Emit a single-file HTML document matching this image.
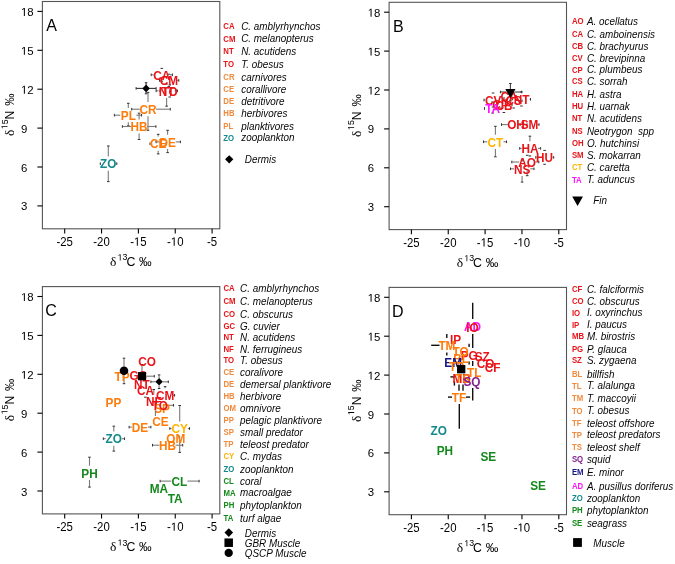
<!DOCTYPE html><html><head><meta charset="utf-8"><style>html,body{margin:0;padding:0;background:#fff;}svg{display:block;will-change:transform;font-family:"Liberation Sans",sans-serif;}</style></head><body>
<svg width="675" height="564" viewBox="0 0 675 564">
<rect width="675" height="564" fill="#fff"/>
<g transform="translate(0,0)">
<rect x="42.4" y="1.5" width="177.4" height="227.3" fill="none" stroke="#555555" stroke-width="1.1"/>
<line x1="64.70" y1="228.8" x2="64.70" y2="233.4" stroke="#000" stroke-width="1.1"/>
<g transform="translate(0,245.70) scale(1,1.04)"><text x="56.46" y="0" font-size="11.4" fill="#000">-25</text></g>
<line x1="101.55" y1="228.8" x2="101.55" y2="233.4" stroke="#000" stroke-width="1.1"/>
<g transform="translate(0,245.70) scale(1,1.04)"><text x="93.31" y="0" font-size="11.4" fill="#000">-20</text></g>
<line x1="138.40" y1="228.8" x2="138.40" y2="233.4" stroke="#000" stroke-width="1.1"/>
<g transform="translate(0,245.70) scale(1,1.04)"><text x="130.16" y="0" font-size="11.4" fill="#000">-</text><path transform="translate(133.96,0) scale(0.005566,-0.005566)" d="M515 0L515 1237L197 1010L197 1180L530 1409L696 1409L696 0Z" fill="#000"/><text x="140.30" y="0" font-size="11.4" fill="#000">5</text></g>
<line x1="175.25" y1="228.8" x2="175.25" y2="233.4" stroke="#000" stroke-width="1.1"/>
<g transform="translate(0,245.70) scale(1,1.04)"><text x="167.01" y="0" font-size="11.4" fill="#000">-</text><path transform="translate(170.81,0) scale(0.005566,-0.005566)" d="M515 0L515 1237L197 1010L197 1180L530 1409L696 1409L696 0Z" fill="#000"/><text x="177.15" y="0" font-size="11.4" fill="#000">0</text></g>
<line x1="212.10" y1="228.8" x2="212.10" y2="233.4" stroke="#000" stroke-width="1.1"/>
<g transform="translate(0,245.70) scale(1,1.04)"><text x="207.03" y="0" font-size="11.4" fill="#000">-5</text></g>
<line x1="37.4" y1="205.91" x2="42.4" y2="205.91" stroke="#000" stroke-width="1.1"/>
<g transform="translate(0,210.41) scale(1,1.0)"><text x="21.00" y="0" font-size="11.4" fill="#000">3</text></g>
<line x1="37.4" y1="167.00" x2="42.4" y2="167.00" stroke="#000" stroke-width="1.1"/>
<g transform="translate(0,171.50) scale(1,1.0)"><text x="21.00" y="0" font-size="11.4" fill="#000">6</text></g>
<line x1="37.4" y1="128.10" x2="42.4" y2="128.10" stroke="#000" stroke-width="1.1"/>
<g transform="translate(0,132.60) scale(1,1.0)"><text x="21.00" y="0" font-size="11.4" fill="#000">9</text></g>
<line x1="37.4" y1="89.20" x2="42.4" y2="89.20" stroke="#000" stroke-width="1.1"/>
<g transform="translate(0,93.70) scale(1,1.0)"><path transform="translate(21.00,0) scale(0.005566,-0.005566)" d="M515 0L515 1237L197 1010L197 1180L530 1409L696 1409L696 0Z" fill="#000"/><text x="27.34" y="0" font-size="11.4" fill="#000">2</text></g>
<line x1="37.4" y1="50.30" x2="42.4" y2="50.30" stroke="#000" stroke-width="1.1"/>
<g transform="translate(0,54.80) scale(1,1.0)"><path transform="translate(21.00,0) scale(0.005566,-0.005566)" d="M515 0L515 1237L197 1010L197 1180L530 1409L696 1409L696 0Z" fill="#000"/><text x="27.34" y="0" font-size="11.4" fill="#000">5</text></g>
<line x1="37.4" y1="11.40" x2="42.4" y2="11.40" stroke="#000" stroke-width="1.1"/>
<g transform="translate(0,15.90) scale(1,1.0)"><path transform="translate(21.00,0) scale(0.005566,-0.005566)" d="M515 0L515 1237L197 1010L197 1180L530 1409L696 1409L696 0Z" fill="#000"/><text x="27.34" y="0" font-size="11.4" fill="#000">8</text></g>
<text x="46.3" y="31.0" font-size="16">A</text>
<text x="110.1" y="266" font-family="Liberation Serif" font-size="13.5">&#948;</text>
<g transform="translate(0,260.40) scale(1,1.0)"><path transform="translate(117.60,0) scale(0.004297,-0.004297)" d="M515 0L515 1237L197 1010L197 1180L530 1409L696 1409L696 0Z" fill="#000"/><text x="122.49" y="0" font-size="8.8" fill="#000">3</text></g>
<text x="126.4" y="266" font-size="12.3">C</text><text x="139" y="266" font-size="12.6">&#8240;</text>
<g transform="translate(14.1,246) rotate(-90)">
<text x="109.9" y="0" font-family="Liberation Serif" font-size="13.5">&#948;</text>
<g transform="translate(0,-6.60) scale(1,1.0)"><path transform="translate(116.80,0) scale(0.004297,-0.004297)" d="M515 0L515 1237L197 1010L197 1180L530 1409L696 1409L696 0Z" fill="#000"/><text x="121.69" y="0" font-size="8.8" fill="#000">5</text></g>
<text x="126.6" y="0" font-size="12.3">N</text><text x="140.2" y="0" font-size="12.3">&#8240;</text>
</g>
</g>
<g transform="translate(346.7,0.8)">
<rect x="42.4" y="1.5" width="177.4" height="227.3" fill="none" stroke="#555555" stroke-width="1.1"/>
<line x1="64.70" y1="228.8" x2="64.70" y2="233.4" stroke="#000" stroke-width="1.1"/>
<g transform="translate(0,245.70) scale(1,1.04)"><text x="56.46" y="0" font-size="11.4" fill="#000">-25</text></g>
<line x1="101.55" y1="228.8" x2="101.55" y2="233.4" stroke="#000" stroke-width="1.1"/>
<g transform="translate(0,245.70) scale(1,1.04)"><text x="93.31" y="0" font-size="11.4" fill="#000">-20</text></g>
<line x1="138.40" y1="228.8" x2="138.40" y2="233.4" stroke="#000" stroke-width="1.1"/>
<g transform="translate(0,245.70) scale(1,1.04)"><text x="130.16" y="0" font-size="11.4" fill="#000">-</text><path transform="translate(133.96,0) scale(0.005566,-0.005566)" d="M515 0L515 1237L197 1010L197 1180L530 1409L696 1409L696 0Z" fill="#000"/><text x="140.30" y="0" font-size="11.4" fill="#000">5</text></g>
<line x1="175.25" y1="228.8" x2="175.25" y2="233.4" stroke="#000" stroke-width="1.1"/>
<g transform="translate(0,245.70) scale(1,1.04)"><text x="167.01" y="0" font-size="11.4" fill="#000">-</text><path transform="translate(170.81,0) scale(0.005566,-0.005566)" d="M515 0L515 1237L197 1010L197 1180L530 1409L696 1409L696 0Z" fill="#000"/><text x="177.15" y="0" font-size="11.4" fill="#000">0</text></g>
<line x1="212.10" y1="228.8" x2="212.10" y2="233.4" stroke="#000" stroke-width="1.1"/>
<g transform="translate(0,245.70) scale(1,1.04)"><text x="207.03" y="0" font-size="11.4" fill="#000">-5</text></g>
<line x1="37.4" y1="205.91" x2="42.4" y2="205.91" stroke="#000" stroke-width="1.1"/>
<g transform="translate(0,210.41) scale(1,1.0)"><text x="21.00" y="0" font-size="11.4" fill="#000">3</text></g>
<line x1="37.4" y1="167.00" x2="42.4" y2="167.00" stroke="#000" stroke-width="1.1"/>
<g transform="translate(0,171.50) scale(1,1.0)"><text x="21.00" y="0" font-size="11.4" fill="#000">6</text></g>
<line x1="37.4" y1="128.10" x2="42.4" y2="128.10" stroke="#000" stroke-width="1.1"/>
<g transform="translate(0,132.60) scale(1,1.0)"><text x="21.00" y="0" font-size="11.4" fill="#000">9</text></g>
<line x1="37.4" y1="89.20" x2="42.4" y2="89.20" stroke="#000" stroke-width="1.1"/>
<g transform="translate(0,93.70) scale(1,1.0)"><path transform="translate(21.00,0) scale(0.005566,-0.005566)" d="M515 0L515 1237L197 1010L197 1180L530 1409L696 1409L696 0Z" fill="#000"/><text x="27.34" y="0" font-size="11.4" fill="#000">2</text></g>
<line x1="37.4" y1="50.30" x2="42.4" y2="50.30" stroke="#000" stroke-width="1.1"/>
<g transform="translate(0,54.80) scale(1,1.0)"><path transform="translate(21.00,0) scale(0.005566,-0.005566)" d="M515 0L515 1237L197 1010L197 1180L530 1409L696 1409L696 0Z" fill="#000"/><text x="27.34" y="0" font-size="11.4" fill="#000">5</text></g>
<line x1="37.4" y1="11.40" x2="42.4" y2="11.40" stroke="#000" stroke-width="1.1"/>
<g transform="translate(0,15.90) scale(1,1.0)"><path transform="translate(21.00,0) scale(0.005566,-0.005566)" d="M515 0L515 1237L197 1010L197 1180L530 1409L696 1409L696 0Z" fill="#000"/><text x="27.34" y="0" font-size="11.4" fill="#000">8</text></g>
<text x="46.3" y="31.0" font-size="16">B</text>
<text x="110.1" y="266" font-family="Liberation Serif" font-size="13.5">&#948;</text>
<g transform="translate(0,260.40) scale(1,1.0)"><path transform="translate(117.60,0) scale(0.004297,-0.004297)" d="M515 0L515 1237L197 1010L197 1180L530 1409L696 1409L696 0Z" fill="#000"/><text x="122.49" y="0" font-size="8.8" fill="#000">3</text></g>
<text x="126.4" y="266" font-size="12.3">C</text><text x="139" y="266" font-size="12.6">&#8240;</text>
<g transform="translate(14.1,246) rotate(-90)">
<text x="109.9" y="0" font-family="Liberation Serif" font-size="13.5">&#948;</text>
<g transform="translate(0,-6.60) scale(1,1.0)"><path transform="translate(116.80,0) scale(0.004297,-0.004297)" d="M515 0L515 1237L197 1010L197 1180L530 1409L696 1409L696 0Z" fill="#000"/><text x="121.69" y="0" font-size="8.8" fill="#000">5</text></g>
<text x="126.6" y="0" font-size="12.3">N</text><text x="140.2" y="0" font-size="12.3">&#8240;</text>
</g>
</g>
<g transform="translate(0,285.1)">
<rect x="42.4" y="1.5" width="177.4" height="227.3" fill="none" stroke="#555555" stroke-width="1.1"/>
<line x1="64.70" y1="228.8" x2="64.70" y2="233.4" stroke="#000" stroke-width="1.1"/>
<g transform="translate(0,245.70) scale(1,1.04)"><text x="56.46" y="0" font-size="11.4" fill="#000">-25</text></g>
<line x1="101.55" y1="228.8" x2="101.55" y2="233.4" stroke="#000" stroke-width="1.1"/>
<g transform="translate(0,245.70) scale(1,1.04)"><text x="93.31" y="0" font-size="11.4" fill="#000">-20</text></g>
<line x1="138.40" y1="228.8" x2="138.40" y2="233.4" stroke="#000" stroke-width="1.1"/>
<g transform="translate(0,245.70) scale(1,1.04)"><text x="130.16" y="0" font-size="11.4" fill="#000">-</text><path transform="translate(133.96,0) scale(0.005566,-0.005566)" d="M515 0L515 1237L197 1010L197 1180L530 1409L696 1409L696 0Z" fill="#000"/><text x="140.30" y="0" font-size="11.4" fill="#000">5</text></g>
<line x1="175.25" y1="228.8" x2="175.25" y2="233.4" stroke="#000" stroke-width="1.1"/>
<g transform="translate(0,245.70) scale(1,1.04)"><text x="167.01" y="0" font-size="11.4" fill="#000">-</text><path transform="translate(170.81,0) scale(0.005566,-0.005566)" d="M515 0L515 1237L197 1010L197 1180L530 1409L696 1409L696 0Z" fill="#000"/><text x="177.15" y="0" font-size="11.4" fill="#000">0</text></g>
<line x1="212.10" y1="228.8" x2="212.10" y2="233.4" stroke="#000" stroke-width="1.1"/>
<g transform="translate(0,245.70) scale(1,1.04)"><text x="207.03" y="0" font-size="11.4" fill="#000">-5</text></g>
<line x1="37.4" y1="205.91" x2="42.4" y2="205.91" stroke="#000" stroke-width="1.1"/>
<g transform="translate(0,210.41) scale(1,1.0)"><text x="21.00" y="0" font-size="11.4" fill="#000">3</text></g>
<line x1="37.4" y1="167.00" x2="42.4" y2="167.00" stroke="#000" stroke-width="1.1"/>
<g transform="translate(0,171.50) scale(1,1.0)"><text x="21.00" y="0" font-size="11.4" fill="#000">6</text></g>
<line x1="37.4" y1="128.10" x2="42.4" y2="128.10" stroke="#000" stroke-width="1.1"/>
<g transform="translate(0,132.60) scale(1,1.0)"><text x="21.00" y="0" font-size="11.4" fill="#000">9</text></g>
<line x1="37.4" y1="89.20" x2="42.4" y2="89.20" stroke="#000" stroke-width="1.1"/>
<g transform="translate(0,93.70) scale(1,1.0)"><path transform="translate(21.00,0) scale(0.005566,-0.005566)" d="M515 0L515 1237L197 1010L197 1180L530 1409L696 1409L696 0Z" fill="#000"/><text x="27.34" y="0" font-size="11.4" fill="#000">2</text></g>
<line x1="37.4" y1="50.30" x2="42.4" y2="50.30" stroke="#000" stroke-width="1.1"/>
<g transform="translate(0,54.80) scale(1,1.0)"><path transform="translate(21.00,0) scale(0.005566,-0.005566)" d="M515 0L515 1237L197 1010L197 1180L530 1409L696 1409L696 0Z" fill="#000"/><text x="27.34" y="0" font-size="11.4" fill="#000">5</text></g>
<line x1="37.4" y1="11.40" x2="42.4" y2="11.40" stroke="#000" stroke-width="1.1"/>
<g transform="translate(0,15.90) scale(1,1.0)"><path transform="translate(21.00,0) scale(0.005566,-0.005566)" d="M515 0L515 1237L197 1010L197 1180L530 1409L696 1409L696 0Z" fill="#000"/><text x="27.34" y="0" font-size="11.4" fill="#000">8</text></g>
<text x="45.3" y="31.0" font-size="16">C</text>
<text x="110.1" y="266" font-family="Liberation Serif" font-size="13.5">&#948;</text>
<g transform="translate(0,260.40) scale(1,1.0)"><path transform="translate(117.60,0) scale(0.004297,-0.004297)" d="M515 0L515 1237L197 1010L197 1180L530 1409L696 1409L696 0Z" fill="#000"/><text x="122.49" y="0" font-size="8.8" fill="#000">3</text></g>
<text x="126.4" y="266" font-size="12.3">C</text><text x="139" y="266" font-size="12.6">&#8240;</text>
<g transform="translate(14.1,246) rotate(-90)">
<text x="109.9" y="0" font-family="Liberation Serif" font-size="13.5">&#948;</text>
<g transform="translate(0,-6.60) scale(1,1.0)"><path transform="translate(116.80,0) scale(0.004297,-0.004297)" d="M515 0L515 1237L197 1010L197 1180L530 1409L696 1409L696 0Z" fill="#000"/><text x="121.69" y="0" font-size="8.8" fill="#000">5</text></g>
<text x="126.6" y="0" font-size="12.3">N</text><text x="140.2" y="0" font-size="12.3">&#8240;</text>
</g>
</g>
<g transform="translate(346.7,285.9)">
<rect x="42.4" y="1.5" width="177.4" height="227.3" fill="none" stroke="#555555" stroke-width="1.1"/>
<line x1="64.70" y1="228.8" x2="64.70" y2="233.4" stroke="#000" stroke-width="1.1"/>
<g transform="translate(0,245.70) scale(1,1.04)"><text x="56.46" y="0" font-size="11.4" fill="#000">-25</text></g>
<line x1="101.55" y1="228.8" x2="101.55" y2="233.4" stroke="#000" stroke-width="1.1"/>
<g transform="translate(0,245.70) scale(1,1.04)"><text x="93.31" y="0" font-size="11.4" fill="#000">-20</text></g>
<line x1="138.40" y1="228.8" x2="138.40" y2="233.4" stroke="#000" stroke-width="1.1"/>
<g transform="translate(0,245.70) scale(1,1.04)"><text x="130.16" y="0" font-size="11.4" fill="#000">-</text><path transform="translate(133.96,0) scale(0.005566,-0.005566)" d="M515 0L515 1237L197 1010L197 1180L530 1409L696 1409L696 0Z" fill="#000"/><text x="140.30" y="0" font-size="11.4" fill="#000">5</text></g>
<line x1="175.25" y1="228.8" x2="175.25" y2="233.4" stroke="#000" stroke-width="1.1"/>
<g transform="translate(0,245.70) scale(1,1.04)"><text x="167.01" y="0" font-size="11.4" fill="#000">-</text><path transform="translate(170.81,0) scale(0.005566,-0.005566)" d="M515 0L515 1237L197 1010L197 1180L530 1409L696 1409L696 0Z" fill="#000"/><text x="177.15" y="0" font-size="11.4" fill="#000">0</text></g>
<line x1="212.10" y1="228.8" x2="212.10" y2="233.4" stroke="#000" stroke-width="1.1"/>
<g transform="translate(0,245.70) scale(1,1.04)"><text x="207.03" y="0" font-size="11.4" fill="#000">-5</text></g>
<line x1="37.4" y1="205.91" x2="42.4" y2="205.91" stroke="#000" stroke-width="1.1"/>
<g transform="translate(0,210.41) scale(1,1.0)"><text x="21.00" y="0" font-size="11.4" fill="#000">3</text></g>
<line x1="37.4" y1="167.00" x2="42.4" y2="167.00" stroke="#000" stroke-width="1.1"/>
<g transform="translate(0,171.50) scale(1,1.0)"><text x="21.00" y="0" font-size="11.4" fill="#000">6</text></g>
<line x1="37.4" y1="128.10" x2="42.4" y2="128.10" stroke="#000" stroke-width="1.1"/>
<g transform="translate(0,132.60) scale(1,1.0)"><text x="21.00" y="0" font-size="11.4" fill="#000">9</text></g>
<line x1="37.4" y1="89.20" x2="42.4" y2="89.20" stroke="#000" stroke-width="1.1"/>
<g transform="translate(0,93.70) scale(1,1.0)"><path transform="translate(21.00,0) scale(0.005566,-0.005566)" d="M515 0L515 1237L197 1010L197 1180L530 1409L696 1409L696 0Z" fill="#000"/><text x="27.34" y="0" font-size="11.4" fill="#000">2</text></g>
<line x1="37.4" y1="50.30" x2="42.4" y2="50.30" stroke="#000" stroke-width="1.1"/>
<g transform="translate(0,54.80) scale(1,1.0)"><path transform="translate(21.00,0) scale(0.005566,-0.005566)" d="M515 0L515 1237L197 1010L197 1180L530 1409L696 1409L696 0Z" fill="#000"/><text x="27.34" y="0" font-size="11.4" fill="#000">5</text></g>
<line x1="37.4" y1="11.40" x2="42.4" y2="11.40" stroke="#000" stroke-width="1.1"/>
<g transform="translate(0,15.90) scale(1,1.0)"><path transform="translate(21.00,0) scale(0.005566,-0.005566)" d="M515 0L515 1237L197 1010L197 1180L530 1409L696 1409L696 0Z" fill="#000"/><text x="27.34" y="0" font-size="11.4" fill="#000">8</text></g>
<text x="45.3" y="31.0" font-size="16">D</text>
<text x="110.1" y="266" font-family="Liberation Serif" font-size="13.5">&#948;</text>
<g transform="translate(0,260.40) scale(1,1.0)"><path transform="translate(117.60,0) scale(0.004297,-0.004297)" d="M515 0L515 1237L197 1010L197 1180L530 1409L696 1409L696 0Z" fill="#000"/><text x="122.49" y="0" font-size="8.8" fill="#000">3</text></g>
<text x="126.4" y="266" font-size="12.3">C</text><text x="139" y="266" font-size="12.6">&#8240;</text>
<g transform="translate(14.1,246) rotate(-90)">
<text x="109.9" y="0" font-family="Liberation Serif" font-size="13.5">&#948;</text>
<g transform="translate(0,-6.60) scale(1,1.0)"><path transform="translate(116.80,0) scale(0.004297,-0.004297)" d="M515 0L515 1237L197 1010L197 1180L530 1409L696 1409L696 0Z" fill="#000"/><text x="121.69" y="0" font-size="8.8" fill="#000">5</text></g>
<text x="126.6" y="0" font-size="12.3">N</text><text x="140.2" y="0" font-size="12.3">&#8240;</text>
</g>
</g>
<line x1="151.2" y1="74.8" x2="153.7" y2="74.8" stroke="#7a7a7a" stroke-width="1.1"/>
<line x1="169.9" y1="74.8" x2="172.4" y2="74.8" stroke="#7a7a7a" stroke-width="1.1"/>
<line x1="151.2" y1="73.5" x2="151.2" y2="76.1" stroke="#333" stroke-width="1"/>
<line x1="172.4" y1="73.5" x2="172.4" y2="76.1" stroke="#333" stroke-width="1"/>
<line x1="160.5" y1="68.4" x2="163.1" y2="68.4" stroke="#333" stroke-width="1"/>
<line x1="160.5" y1="81.2" x2="163.1" y2="81.2" stroke="#333" stroke-width="1"/>
<line x1="159.5" y1="80.4" x2="160.7" y2="80.4" stroke="#7a7a7a" stroke-width="1.1"/>
<line x1="176.9" y1="80.4" x2="178.8" y2="80.4" stroke="#7a7a7a" stroke-width="1.1"/>
<line x1="159.5" y1="79.1" x2="159.5" y2="81.7" stroke="#333" stroke-width="1"/>
<line x1="178.8" y1="79.1" x2="178.8" y2="81.7" stroke="#333" stroke-width="1"/>
<line x1="167.5" y1="74.2" x2="170.1" y2="74.2" stroke="#333" stroke-width="1"/>
<line x1="167.5" y1="86.6" x2="170.1" y2="86.6" stroke="#333" stroke-width="1"/>
<line x1="156.1" y1="90.8" x2="158.5" y2="90.8" stroke="#7a7a7a" stroke-width="1.1"/>
<line x1="174.7" y1="90.8" x2="176.0" y2="90.8" stroke="#7a7a7a" stroke-width="1.1"/>
<line x1="166.6" y1="97.9" x2="166.6" y2="106.2" stroke="#7a7a7a" stroke-width="1.1"/>
<line x1="156.1" y1="89.5" x2="156.1" y2="92.1" stroke="#333" stroke-width="1"/>
<line x1="176.0" y1="89.5" x2="176.0" y2="92.1" stroke="#333" stroke-width="1"/>
<line x1="165.3" y1="84.0" x2="167.9" y2="84.0" stroke="#333" stroke-width="1"/>
<line x1="165.3" y1="106.2" x2="167.9" y2="106.2" stroke="#333" stroke-width="1"/>
<line x1="160.0" y1="90.8" x2="161.6" y2="90.8" stroke="#7a7a7a" stroke-width="1.1"/>
<line x1="160.0" y1="89.5" x2="160.0" y2="92.1" stroke="#333" stroke-width="1"/>
<line x1="177.4" y1="89.5" x2="177.4" y2="92.1" stroke="#333" stroke-width="1"/>
<line x1="168.4" y1="85.0" x2="171.0" y2="85.0" stroke="#333" stroke-width="1"/>
<line x1="168.4" y1="97.0" x2="171.0" y2="97.0" stroke="#333" stroke-width="1"/>
<line x1="131.7" y1="109.2" x2="139.9" y2="109.2" stroke="#7a7a7a" stroke-width="1.1"/>
<line x1="156.1" y1="109.2" x2="170.3" y2="109.2" stroke="#7a7a7a" stroke-width="1.1"/>
<line x1="148.0" y1="92.4" x2="148.0" y2="102.1" stroke="#7a7a7a" stroke-width="1.1"/>
<line x1="148.0" y1="116.3" x2="148.0" y2="130.3" stroke="#7a7a7a" stroke-width="1.1"/>
<line x1="131.7" y1="107.9" x2="131.7" y2="110.5" stroke="#333" stroke-width="1"/>
<line x1="170.3" y1="107.9" x2="170.3" y2="110.5" stroke="#333" stroke-width="1"/>
<line x1="146.7" y1="92.4" x2="149.3" y2="92.4" stroke="#333" stroke-width="1"/>
<line x1="146.7" y1="130.3" x2="149.3" y2="130.3" stroke="#333" stroke-width="1"/>
<line x1="114.4" y1="115.2" x2="120.2" y2="115.2" stroke="#7a7a7a" stroke-width="1.1"/>
<line x1="136.4" y1="115.2" x2="141.6" y2="115.2" stroke="#7a7a7a" stroke-width="1.1"/>
<line x1="128.3" y1="103.3" x2="128.3" y2="108.1" stroke="#7a7a7a" stroke-width="1.1"/>
<line x1="128.3" y1="122.3" x2="128.3" y2="125.9" stroke="#7a7a7a" stroke-width="1.1"/>
<line x1="114.4" y1="113.9" x2="114.4" y2="116.5" stroke="#333" stroke-width="1"/>
<line x1="141.6" y1="113.9" x2="141.6" y2="116.5" stroke="#333" stroke-width="1"/>
<line x1="127.0" y1="103.3" x2="129.6" y2="103.3" stroke="#333" stroke-width="1"/>
<line x1="127.0" y1="125.9" x2="129.6" y2="125.9" stroke="#333" stroke-width="1"/>
<line x1="122.4" y1="126.5" x2="131.0" y2="126.5" stroke="#7a7a7a" stroke-width="1.1"/>
<line x1="147.2" y1="126.5" x2="155.9" y2="126.5" stroke="#7a7a7a" stroke-width="1.1"/>
<line x1="139.1" y1="113.2" x2="139.1" y2="119.4" stroke="#7a7a7a" stroke-width="1.1"/>
<line x1="139.1" y1="133.6" x2="139.1" y2="139.5" stroke="#7a7a7a" stroke-width="1.1"/>
<line x1="122.4" y1="125.2" x2="122.4" y2="127.8" stroke="#333" stroke-width="1"/>
<line x1="155.9" y1="125.2" x2="155.9" y2="127.8" stroke="#333" stroke-width="1"/>
<line x1="137.8" y1="113.2" x2="140.4" y2="113.2" stroke="#333" stroke-width="1"/>
<line x1="137.8" y1="139.5" x2="140.4" y2="139.5" stroke="#333" stroke-width="1"/>
<line x1="150.0" y1="143.7" x2="150.1" y2="143.7" stroke="#7a7a7a" stroke-width="1.1"/>
<line x1="158.2" y1="134.3" x2="158.2" y2="136.6" stroke="#7a7a7a" stroke-width="1.1"/>
<line x1="158.2" y1="150.8" x2="158.2" y2="153.9" stroke="#7a7a7a" stroke-width="1.1"/>
<line x1="150.0" y1="142.4" x2="150.0" y2="145.0" stroke="#333" stroke-width="1"/>
<line x1="166.0" y1="142.4" x2="166.0" y2="145.0" stroke="#333" stroke-width="1"/>
<line x1="156.9" y1="134.3" x2="159.5" y2="134.3" stroke="#333" stroke-width="1"/>
<line x1="156.9" y1="153.9" x2="159.5" y2="153.9" stroke="#333" stroke-width="1"/>
<line x1="156.0" y1="141.9" x2="159.5" y2="141.9" stroke="#7a7a7a" stroke-width="1.1"/>
<line x1="175.7" y1="141.9" x2="180.4" y2="141.9" stroke="#7a7a7a" stroke-width="1.1"/>
<line x1="167.6" y1="130.3" x2="167.6" y2="134.8" stroke="#7a7a7a" stroke-width="1.1"/>
<line x1="167.6" y1="149.0" x2="167.6" y2="152.6" stroke="#7a7a7a" stroke-width="1.1"/>
<line x1="156.0" y1="140.6" x2="156.0" y2="143.2" stroke="#333" stroke-width="1"/>
<line x1="180.4" y1="140.6" x2="180.4" y2="143.2" stroke="#333" stroke-width="1"/>
<line x1="166.3" y1="130.3" x2="168.9" y2="130.3" stroke="#333" stroke-width="1"/>
<line x1="166.3" y1="152.6" x2="168.9" y2="152.6" stroke="#333" stroke-width="1"/>
<line x1="116.4" y1="163.7" x2="116.8" y2="163.7" stroke="#7a7a7a" stroke-width="1.1"/>
<line x1="108.3" y1="146.0" x2="108.3" y2="156.6" stroke="#7a7a7a" stroke-width="1.1"/>
<line x1="108.3" y1="170.8" x2="108.3" y2="181.6" stroke="#7a7a7a" stroke-width="1.1"/>
<line x1="100.3" y1="162.4" x2="100.3" y2="165.0" stroke="#333" stroke-width="1"/>
<line x1="116.8" y1="162.4" x2="116.8" y2="165.0" stroke="#333" stroke-width="1"/>
<line x1="107.0" y1="146.0" x2="109.6" y2="146.0" stroke="#333" stroke-width="1"/>
<line x1="107.0" y1="181.6" x2="109.6" y2="181.6" stroke="#333" stroke-width="1"/>
<text transform="translate(161.80,79.53) scale(1,1.13)" font-size="11.8" font-weight="bold" fill="#e91419" text-anchor="middle">CA</text>
<text transform="translate(168.80,85.13) scale(1,1.13)" font-size="11.8" font-weight="bold" fill="#e91419" text-anchor="middle">CM</text>
<text transform="translate(166.60,95.53) scale(1,1.13)" font-size="11.8" font-weight="bold" fill="#e91419" text-anchor="middle">NT</text>
<text transform="translate(169.70,95.53) scale(1,1.13)" font-size="11.8" font-weight="bold" fill="#e91419" text-anchor="middle">TO</text>
<text transform="translate(148.00,113.93) scale(1,1.13)" font-size="11.8" font-weight="bold" fill="#ff7b0a" text-anchor="middle">CR</text>
<text transform="translate(128.30,119.93) scale(1,1.13)" font-size="11.8" font-weight="bold" fill="#ff7b0a" text-anchor="middle">PL</text>
<text transform="translate(139.10,131.23) scale(1,1.13)" font-size="11.8" font-weight="bold" fill="#ff7b0a" text-anchor="middle">HB</text>
<text transform="translate(158.20,148.43) scale(1,1.13)" font-size="11.8" font-weight="bold" fill="#ff7b0a" text-anchor="middle">CE</text>
<text transform="translate(167.60,146.63) scale(1,1.13)" font-size="11.8" font-weight="bold" fill="#ff7b0a" text-anchor="middle">DE</text>
<text transform="translate(108.30,168.43) scale(1,1.13)" font-size="11.8" font-weight="bold" fill="#14898c" text-anchor="middle">ZO</text>
<line x1="136.1" y1="88.4" x2="143.1" y2="88.4" stroke="#333" stroke-width="1.1"/>
<line x1="149.1" y1="88.4" x2="156.1" y2="88.4" stroke="#333" stroke-width="1.1"/>
<line x1="146.1" y1="82.7" x2="146.1" y2="85.4" stroke="#333" stroke-width="1.1"/>
<line x1="146.1" y1="91.4" x2="146.1" y2="93.8" stroke="#333" stroke-width="1.1"/>
<line x1="136.1" y1="87.1" x2="136.1" y2="89.7" stroke="#333" stroke-width="1"/>
<line x1="156.1" y1="87.1" x2="156.1" y2="89.7" stroke="#333" stroke-width="1"/>
<line x1="144.8" y1="82.7" x2="147.4" y2="82.7" stroke="#333" stroke-width="1"/>
<line x1="144.8" y1="93.8" x2="147.4" y2="93.8" stroke="#333" stroke-width="1"/>
<path d="M146.1 84.60000000000001L149.9 88.4L146.1 92.2L142.29999999999998 88.4Z" fill="#000"/>
<text transform="translate(223.3,28.95) scale(1,1.1)" font-size="7.8" font-weight="bold" fill="#e91419">CA</text>
<text transform="translate(241.2,29.79) scale(1,1.12)" font-size="9.9" font-style="italic" fill="#050505">C. amblyrhynchos</text>
<text transform="translate(223.3,41.55) scale(1,1.1)" font-size="7.8" font-weight="bold" fill="#e91419">CM</text>
<text transform="translate(241.2,42.39) scale(1,1.12)" font-size="9.9" font-style="italic" fill="#050505">C. melanopterus</text>
<text transform="translate(223.3,54.25) scale(1,1.1)" font-size="7.8" font-weight="bold" fill="#e91419">NT</text>
<text transform="translate(241.2,55.09) scale(1,1.12)" font-size="9.9" font-style="italic" fill="#050505">N. acutidens</text>
<text transform="translate(223.3,67.05) scale(1,1.1)" font-size="7.8" font-weight="bold" fill="#e91419">TO</text>
<text transform="translate(241.2,67.89) scale(1,1.12)" font-size="9.9" font-style="italic" fill="#050505">T. obesus</text>
<text transform="translate(223.3,80.05) scale(1,1.1)" font-size="7.8" font-weight="bold" fill="#f08a3c">CR</text>
<text transform="translate(241.2,80.89) scale(1,1.12)" font-size="9.9" font-style="italic" fill="#050505">carnivores</text>
<text transform="translate(223.3,92.25) scale(1,1.1)" font-size="7.8" font-weight="bold" fill="#f08a3c">CE</text>
<text transform="translate(241.2,93.09) scale(1,1.12)" font-size="9.9" font-style="italic" fill="#050505">corallivore</text>
<text transform="translate(223.3,104.05) scale(1,1.1)" font-size="7.8" font-weight="bold" fill="#f08a3c">DE</text>
<text transform="translate(241.2,104.89) scale(1,1.12)" font-size="9.9" font-style="italic" fill="#050505">detritivore</text>
<text transform="translate(223.3,116.35) scale(1,1.1)" font-size="7.8" font-weight="bold" fill="#f08a3c">HB</text>
<text transform="translate(241.2,117.19) scale(1,1.12)" font-size="9.9" font-style="italic" fill="#050505">herbivores</text>
<text transform="translate(223.3,128.95) scale(1,1.1)" font-size="7.8" font-weight="bold" fill="#f08a3c">PL</text>
<text transform="translate(241.2,129.79) scale(1,1.12)" font-size="9.9" font-style="italic" fill="#050505">planktivores</text>
<text transform="translate(223.3,140.65) scale(1,1.1)" font-size="7.8" font-weight="bold" fill="#14898c">ZO</text>
<text transform="translate(241.2,141.49) scale(1,1.12)" font-size="9.9" font-style="italic" fill="#050505">zooplankton</text>
<path d="M229.2 155.15L233.35 159.3L229.2 163.45000000000002L225.04999999999998 159.3Z" fill="#000"/>
<text transform="translate(244.8,162.6) scale(1,1.12)" font-size="9.9" font-style="italic" fill="#050505">Dermis</text>
<line x1="500.4" y1="92.0" x2="506.4" y2="92.0" stroke="#444" stroke-width="1.1"/>
<line x1="514.4" y1="92.0" x2="521.6" y2="92.0" stroke="#444" stroke-width="1.1"/>
<line x1="510.4" y1="83.5" x2="510.4" y2="89.0" stroke="#444" stroke-width="1.1"/>
<line x1="510.4" y1="95.0" x2="510.4" y2="101.0" stroke="#444" stroke-width="1.1"/>
<line x1="500.4" y1="90.7" x2="500.4" y2="93.3" stroke="#333" stroke-width="1"/>
<line x1="521.6" y1="90.7" x2="521.6" y2="93.3" stroke="#333" stroke-width="1"/>
<line x1="509.1" y1="83.5" x2="511.7" y2="83.5" stroke="#333" stroke-width="1"/>
<line x1="509.1" y1="101.0" x2="511.7" y2="101.0" stroke="#333" stroke-width="1"/>
<line x1="484.0" y1="100.0" x2="485.0" y2="100.0" stroke="#7a7a7a" stroke-width="1.1"/>
<line x1="501.2" y1="100.0" x2="503.0" y2="100.0" stroke="#7a7a7a" stroke-width="1.1"/>
<line x1="484.0" y1="98.7" x2="484.0" y2="101.3" stroke="#333" stroke-width="1"/>
<line x1="503.0" y1="98.7" x2="503.0" y2="101.3" stroke="#333" stroke-width="1"/>
<line x1="491.8" y1="93.0" x2="494.4" y2="93.0" stroke="#333" stroke-width="1"/>
<line x1="491.8" y1="107.0" x2="494.4" y2="107.0" stroke="#333" stroke-width="1"/>
<line x1="505.0" y1="100.7" x2="505.5" y2="100.7" stroke="#7a7a7a" stroke-width="1.1"/>
<line x1="521.7" y1="100.7" x2="522.0" y2="100.7" stroke="#7a7a7a" stroke-width="1.1"/>
<line x1="513.6" y1="107.8" x2="513.6" y2="108.0" stroke="#7a7a7a" stroke-width="1.1"/>
<line x1="505.0" y1="99.4" x2="505.0" y2="102.0" stroke="#333" stroke-width="1"/>
<line x1="522.0" y1="99.4" x2="522.0" y2="102.0" stroke="#333" stroke-width="1"/>
<line x1="512.3" y1="94.0" x2="514.9" y2="94.0" stroke="#333" stroke-width="1"/>
<line x1="512.3" y1="108.0" x2="514.9" y2="108.0" stroke="#333" stroke-width="1"/>
<line x1="503.9" y1="112.0" x2="503.9" y2="112.5" stroke="#7a7a7a" stroke-width="1.1"/>
<line x1="497.0" y1="103.6" x2="497.0" y2="106.2" stroke="#333" stroke-width="1"/>
<line x1="512.0" y1="103.6" x2="512.0" y2="106.2" stroke="#333" stroke-width="1"/>
<line x1="502.6" y1="98.0" x2="505.2" y2="98.0" stroke="#333" stroke-width="1"/>
<line x1="502.6" y1="112.5" x2="505.2" y2="112.5" stroke="#333" stroke-width="1"/>
<line x1="512.0" y1="99.3" x2="513.4" y2="99.3" stroke="#7a7a7a" stroke-width="1.1"/>
<line x1="529.6" y1="99.3" x2="530.5" y2="99.3" stroke="#7a7a7a" stroke-width="1.1"/>
<line x1="521.5" y1="92.0" x2="521.5" y2="92.2" stroke="#7a7a7a" stroke-width="1.1"/>
<line x1="512.0" y1="98.0" x2="512.0" y2="100.6" stroke="#333" stroke-width="1"/>
<line x1="530.5" y1="98.0" x2="530.5" y2="100.6" stroke="#333" stroke-width="1"/>
<line x1="520.2" y1="92.0" x2="522.8" y2="92.0" stroke="#333" stroke-width="1"/>
<line x1="520.2" y1="106.0" x2="522.8" y2="106.0" stroke="#333" stroke-width="1"/>
<line x1="501.5" y1="124.6" x2="507.9" y2="124.6" stroke="#7a7a7a" stroke-width="1.1"/>
<line x1="524.1" y1="124.6" x2="527.0" y2="124.6" stroke="#7a7a7a" stroke-width="1.1"/>
<line x1="501.5" y1="123.3" x2="501.5" y2="125.9" stroke="#333" stroke-width="1"/>
<line x1="527.0" y1="123.3" x2="527.0" y2="125.9" stroke="#333" stroke-width="1"/>
<line x1="520.0" y1="124.6" x2="521.4" y2="124.6" stroke="#7a7a7a" stroke-width="1.1"/>
<line x1="537.6" y1="124.6" x2="539.0" y2="124.6" stroke="#7a7a7a" stroke-width="1.1"/>
<line x1="520.0" y1="123.3" x2="520.0" y2="125.9" stroke="#333" stroke-width="1"/>
<line x1="539.0" y1="123.3" x2="539.0" y2="125.9" stroke="#333" stroke-width="1"/>
<line x1="483.5" y1="141.8" x2="487.3" y2="141.8" stroke="#7a7a7a" stroke-width="1.1"/>
<line x1="503.5" y1="141.8" x2="506.5" y2="141.8" stroke="#7a7a7a" stroke-width="1.1"/>
<line x1="495.4" y1="126.3" x2="495.4" y2="134.7" stroke="#7a7a7a" stroke-width="1.1"/>
<line x1="495.4" y1="148.9" x2="495.4" y2="156.8" stroke="#7a7a7a" stroke-width="1.1"/>
<line x1="483.5" y1="140.5" x2="483.5" y2="143.1" stroke="#333" stroke-width="1"/>
<line x1="506.5" y1="140.5" x2="506.5" y2="143.1" stroke="#333" stroke-width="1"/>
<line x1="494.1" y1="126.3" x2="496.7" y2="126.3" stroke="#333" stroke-width="1"/>
<line x1="494.1" y1="156.8" x2="496.7" y2="156.8" stroke="#333" stroke-width="1"/>
<line x1="519.7" y1="148.4" x2="521.8" y2="148.4" stroke="#7a7a7a" stroke-width="1.1"/>
<line x1="538.0" y1="148.4" x2="540.6" y2="148.4" stroke="#7a7a7a" stroke-width="1.1"/>
<line x1="529.9" y1="136.2" x2="529.9" y2="141.3" stroke="#7a7a7a" stroke-width="1.1"/>
<line x1="529.9" y1="155.5" x2="529.9" y2="156.0" stroke="#7a7a7a" stroke-width="1.1"/>
<line x1="519.7" y1="147.1" x2="519.7" y2="149.7" stroke="#333" stroke-width="1"/>
<line x1="540.6" y1="147.1" x2="540.6" y2="149.7" stroke="#333" stroke-width="1"/>
<line x1="528.6" y1="136.2" x2="531.2" y2="136.2" stroke="#333" stroke-width="1"/>
<line x1="528.6" y1="156.0" x2="531.2" y2="156.0" stroke="#333" stroke-width="1"/>
<line x1="535.8" y1="157.4" x2="536.5" y2="157.4" stroke="#7a7a7a" stroke-width="1.1"/>
<line x1="552.7" y1="157.4" x2="553.7" y2="157.4" stroke="#7a7a7a" stroke-width="1.1"/>
<line x1="535.8" y1="156.1" x2="535.8" y2="158.7" stroke="#333" stroke-width="1"/>
<line x1="553.7" y1="156.1" x2="553.7" y2="158.7" stroke="#333" stroke-width="1"/>
<line x1="543.3" y1="150.4" x2="545.9" y2="150.4" stroke="#333" stroke-width="1"/>
<line x1="543.3" y1="164.3" x2="545.9" y2="164.3" stroke="#333" stroke-width="1"/>
<line x1="511.8" y1="162.0" x2="519.1" y2="162.0" stroke="#7a7a7a" stroke-width="1.1"/>
<line x1="535.3" y1="162.0" x2="538.8" y2="162.0" stroke="#7a7a7a" stroke-width="1.1"/>
<line x1="527.2" y1="169.1" x2="527.2" y2="175.7" stroke="#7a7a7a" stroke-width="1.1"/>
<line x1="511.8" y1="160.7" x2="511.8" y2="163.3" stroke="#333" stroke-width="1"/>
<line x1="538.8" y1="160.7" x2="538.8" y2="163.3" stroke="#333" stroke-width="1"/>
<line x1="525.9" y1="155.3" x2="528.5" y2="155.3" stroke="#333" stroke-width="1"/>
<line x1="525.9" y1="175.7" x2="528.5" y2="175.7" stroke="#333" stroke-width="1"/>
<line x1="510.5" y1="168.8" x2="514.0" y2="168.8" stroke="#7a7a7a" stroke-width="1.1"/>
<line x1="530.2" y1="168.8" x2="534.0" y2="168.8" stroke="#7a7a7a" stroke-width="1.1"/>
<line x1="522.1" y1="160.0" x2="522.1" y2="161.7" stroke="#7a7a7a" stroke-width="1.1"/>
<line x1="522.1" y1="175.9" x2="522.1" y2="182.1" stroke="#7a7a7a" stroke-width="1.1"/>
<line x1="510.5" y1="167.5" x2="510.5" y2="170.1" stroke="#333" stroke-width="1"/>
<line x1="534.0" y1="167.5" x2="534.0" y2="170.1" stroke="#333" stroke-width="1"/>
<line x1="520.8" y1="160.0" x2="523.4" y2="160.0" stroke="#333" stroke-width="1"/>
<line x1="520.8" y1="182.1" x2="523.4" y2="182.1" stroke="#333" stroke-width="1"/>
<line x1="500.7" y1="108.5" x2="501.0" y2="108.5" stroke="#7a7a7a" stroke-width="1.1"/>
<line x1="484.5" y1="107.2" x2="484.5" y2="109.8" stroke="#333" stroke-width="1"/>
<line x1="501.0" y1="107.2" x2="501.0" y2="109.8" stroke="#333" stroke-width="1"/>
<line x1="491.3" y1="102.0" x2="493.9" y2="102.0" stroke="#333" stroke-width="1"/>
<line x1="491.3" y1="113.1" x2="493.9" y2="113.1" stroke="#333" stroke-width="1"/>
<text transform="translate(493.10,104.73) scale(1,1.13)" font-size="11.8" font-weight="bold" fill="#e91419" text-anchor="middle">CV</text>
<text transform="translate(509.00,101.23) scale(1,1.13)" font-size="11.8" font-weight="bold" fill="#e91419" text-anchor="middle">CA</text>
<text transform="translate(513.60,105.43) scale(1,1.13)" font-size="11.8" font-weight="bold" fill="#e91419" text-anchor="middle">CS</text>
<text transform="translate(503.90,109.63) scale(1,1.13)" font-size="11.8" font-weight="bold" fill="#e91419" text-anchor="middle">CB</text>
<text transform="translate(500.50,109.23) scale(1,1.13)" font-size="11.8" font-weight="bold" fill="#e91419" text-anchor="middle">CP</text>
<text transform="translate(521.50,104.03) scale(1,1.13)" font-size="11.8" font-weight="bold" fill="#e91419" text-anchor="middle">NT</text>
<text transform="translate(516.00,129.33) scale(1,1.13)" font-size="11.8" font-weight="bold" fill="#e91419" text-anchor="middle">OH</text>
<text transform="translate(529.50,129.33) scale(1,1.13)" font-size="11.8" font-weight="bold" fill="#e91419" text-anchor="middle">SM</text>
<text transform="translate(495.40,146.53) scale(1,1.13)" font-size="11.8" font-weight="bold" fill="#ffb400" text-anchor="middle">CT</text>
<text transform="translate(529.90,153.13) scale(1,1.13)" font-size="11.8" font-weight="bold" fill="#e91419" text-anchor="middle">HA</text>
<text transform="translate(544.60,162.13) scale(1,1.13)" font-size="11.8" font-weight="bold" fill="#e91419" text-anchor="middle">HU</text>
<text transform="translate(527.20,166.73) scale(1,1.13)" font-size="11.8" font-weight="bold" fill="#e91419" text-anchor="middle">AO</text>
<text transform="translate(522.10,173.53) scale(1,1.13)" font-size="11.8" font-weight="bold" fill="#e91419" text-anchor="middle">NS</text>
<text transform="translate(492.60,113.23) scale(1,1.13)" font-size="11.8" font-weight="bold" fill="#ff10ff" text-anchor="middle">TA</text>
<path d="M505.29999999999995 89.1L515.5 89.1L510.4 98.1Z" fill="#000"/>
<text transform="translate(571.9,24.35) scale(1,1.1)" font-size="7.8" font-weight="bold" fill="#e91419">AO</text>
<text transform="translate(586.9,25.19) scale(1,1.12)" font-size="9.9" font-style="italic" fill="#050505">A. ocellatus</text>
<text transform="translate(571.9,37.25) scale(1,1.1)" font-size="7.8" font-weight="bold" fill="#e91419">CA</text>
<text transform="translate(586.9,38.09) scale(1,1.12)" font-size="9.9" font-style="italic" fill="#050505">C. amboinensis</text>
<text transform="translate(571.9,49.15) scale(1,1.1)" font-size="7.8" font-weight="bold" fill="#e91419">CB</text>
<text transform="translate(586.9,49.99) scale(1,1.12)" font-size="9.9" font-style="italic" fill="#050505">C. brachyurus</text>
<text transform="translate(571.9,61.35) scale(1,1.1)" font-size="7.8" font-weight="bold" fill="#e91419">CV</text>
<text transform="translate(586.9,62.19) scale(1,1.12)" font-size="9.9" font-style="italic" fill="#050505">C. brevipinna</text>
<text transform="translate(571.9,72.55) scale(1,1.1)" font-size="7.8" font-weight="bold" fill="#e91419">CP</text>
<text transform="translate(586.9,73.39) scale(1,1.12)" font-size="9.9" font-style="italic" fill="#050505">C. plumbeus</text>
<text transform="translate(571.9,84.45) scale(1,1.1)" font-size="7.8" font-weight="bold" fill="#e91419">CS</text>
<text transform="translate(586.9,85.29) scale(1,1.12)" font-size="9.9" font-style="italic" fill="#050505">C. sorrah</text>
<text transform="translate(571.9,96.75) scale(1,1.1)" font-size="7.8" font-weight="bold" fill="#e91419">HA</text>
<text transform="translate(586.9,97.59) scale(1,1.12)" font-size="9.9" font-style="italic" fill="#050505">H. astra</text>
<text transform="translate(571.9,108.95) scale(1,1.1)" font-size="7.8" font-weight="bold" fill="#e91419">HU</text>
<text transform="translate(586.9,109.79) scale(1,1.12)" font-size="9.9" font-style="italic" fill="#050505">H. uarnak</text>
<text transform="translate(571.9,121.45) scale(1,1.1)" font-size="7.8" font-weight="bold" fill="#e91419">NT</text>
<text transform="translate(586.9,122.29) scale(1,1.12)" font-size="9.9" font-style="italic" fill="#050505">N. acutidens</text>
<text transform="translate(571.9,133.85) scale(1,1.1)" font-size="7.8" font-weight="bold" fill="#e91419">NS</text>
<text transform="translate(586.9,134.69) scale(1,1.12)" font-size="9.9" font-style="italic" fill="#050505">Neotrygon&#160; spp</text>
<text transform="translate(571.9,145.85) scale(1,1.1)" font-size="7.8" font-weight="bold" fill="#e91419">OH</text>
<text transform="translate(586.9,146.69) scale(1,1.12)" font-size="9.9" font-style="italic" fill="#050505">O. hutchinsi</text>
<text transform="translate(571.9,157.75) scale(1,1.1)" font-size="7.8" font-weight="bold" fill="#e91419">SM</text>
<text transform="translate(586.9,158.59) scale(1,1.12)" font-size="9.9" font-style="italic" fill="#050505">S. mokarran</text>
<text transform="translate(571.9,170.15) scale(1,1.1)" font-size="7.8" font-weight="bold" fill="#ffb400">CT</text>
<text transform="translate(586.9,170.99) scale(1,1.12)" font-size="9.9" font-style="italic" fill="#050505">C. caretta</text>
<text transform="translate(571.9,182.65) scale(1,1.1)" font-size="7.8" font-weight="bold" fill="#ff10ff">TA</text>
<text transform="translate(586.9,183.49) scale(1,1.12)" font-size="9.9" font-style="italic" fill="#050505">T. aduncus</text>
<path d="M572.25 196.5L582.95 196.5L577.6 205.89999999999998Z" fill="#000"/>
<text transform="translate(593.2,203.9) scale(1,1.12)" font-size="9.9" font-style="italic" fill="#050505">Fin</text>
<line x1="124.0" y1="358.2" x2="124.0" y2="366.4" stroke="#777" stroke-width="1.1"/>
<line x1="124.0" y1="375.0" x2="124.0" y2="383.7" stroke="#777" stroke-width="1.1"/>
<line x1="122.7" y1="358.2" x2="125.3" y2="358.2" stroke="#333" stroke-width="1"/>
<line x1="122.7" y1="383.7" x2="125.3" y2="383.7" stroke="#333" stroke-width="1"/>
<line x1="146.2" y1="376.2" x2="154.3" y2="376.2" stroke="#777" stroke-width="1.1"/>
<line x1="142.0" y1="364.5" x2="142.0" y2="372.0" stroke="#777" stroke-width="1.1"/>
<line x1="154.3" y1="374.9" x2="154.3" y2="377.5" stroke="#333" stroke-width="1"/>
<line x1="140.7" y1="364.5" x2="143.3" y2="364.5" stroke="#333" stroke-width="1"/>
<line x1="150.9" y1="381.8" x2="155.5" y2="381.8" stroke="#777" stroke-width="1.1"/>
<line x1="162.7" y1="381.8" x2="168.3" y2="381.8" stroke="#777" stroke-width="1.1"/>
<line x1="159.1" y1="374.9" x2="159.1" y2="378.2" stroke="#777" stroke-width="1.1"/>
<line x1="159.1" y1="385.4" x2="159.1" y2="388.5" stroke="#777" stroke-width="1.1"/>
<line x1="150.9" y1="380.5" x2="150.9" y2="383.1" stroke="#333" stroke-width="1"/>
<line x1="168.3" y1="380.5" x2="168.3" y2="383.1" stroke="#333" stroke-width="1"/>
<line x1="157.8" y1="374.9" x2="160.4" y2="374.9" stroke="#333" stroke-width="1"/>
<line x1="157.8" y1="388.5" x2="160.4" y2="388.5" stroke="#333" stroke-width="1"/>
<line x1="144.1" y1="397.2" x2="146.7" y2="397.2" stroke="#333" stroke-width="1"/>
<line x1="173.2" y1="395.3" x2="174.6" y2="395.3" stroke="#7a7a7a" stroke-width="1.1"/>
<line x1="165.1" y1="386.6" x2="165.1" y2="388.2" stroke="#7a7a7a" stroke-width="1.1"/>
<line x1="174.6" y1="394.0" x2="174.6" y2="396.6" stroke="#333" stroke-width="1"/>
<line x1="163.8" y1="386.6" x2="166.4" y2="386.6" stroke="#333" stroke-width="1"/>
<line x1="153.8" y1="389.5" x2="153.8" y2="394.6" stroke="#7a7a7a" stroke-width="1.1"/>
<line x1="152.5" y1="389.5" x2="155.1" y2="389.5" stroke="#333" stroke-width="1"/>
<line x1="167.9" y1="405.3" x2="173.5" y2="405.3" stroke="#7a7a7a" stroke-width="1.1"/>
<line x1="173.5" y1="404.0" x2="173.5" y2="406.6" stroke="#333" stroke-width="1"/>
<line x1="129.1" y1="427.1" x2="131.8" y2="427.1" stroke="#7a7a7a" stroke-width="1.1"/>
<line x1="148.0" y1="427.1" x2="150.9" y2="427.1" stroke="#7a7a7a" stroke-width="1.1"/>
<line x1="129.1" y1="425.8" x2="129.1" y2="428.4" stroke="#333" stroke-width="1"/>
<line x1="150.9" y1="425.8" x2="150.9" y2="428.4" stroke="#333" stroke-width="1"/>
<line x1="169.8" y1="428.5" x2="171.6" y2="428.5" stroke="#7a7a7a" stroke-width="1.1"/>
<line x1="187.8" y1="428.5" x2="189.5" y2="428.5" stroke="#7a7a7a" stroke-width="1.1"/>
<line x1="179.7" y1="405.5" x2="179.7" y2="421.4" stroke="#7a7a7a" stroke-width="1.1"/>
<line x1="179.7" y1="435.6" x2="179.7" y2="452.4" stroke="#7a7a7a" stroke-width="1.1"/>
<line x1="169.8" y1="427.2" x2="169.8" y2="429.8" stroke="#333" stroke-width="1"/>
<line x1="189.5" y1="427.2" x2="189.5" y2="429.8" stroke="#333" stroke-width="1"/>
<line x1="178.4" y1="405.5" x2="181.0" y2="405.5" stroke="#333" stroke-width="1"/>
<line x1="178.4" y1="452.4" x2="181.0" y2="452.4" stroke="#333" stroke-width="1"/>
<line x1="152.5" y1="445.2" x2="159.4" y2="445.2" stroke="#7a7a7a" stroke-width="1.1"/>
<line x1="175.6" y1="445.2" x2="182.7" y2="445.2" stroke="#7a7a7a" stroke-width="1.1"/>
<line x1="152.5" y1="443.9" x2="152.5" y2="446.5" stroke="#333" stroke-width="1"/>
<line x1="182.7" y1="443.9" x2="182.7" y2="446.5" stroke="#333" stroke-width="1"/>
<line x1="103.3" y1="438.7" x2="105.7" y2="438.7" stroke="#7a7a7a" stroke-width="1.1"/>
<line x1="121.9" y1="438.7" x2="124.5" y2="438.7" stroke="#7a7a7a" stroke-width="1.1"/>
<line x1="113.8" y1="426.2" x2="113.8" y2="431.6" stroke="#7a7a7a" stroke-width="1.1"/>
<line x1="113.8" y1="445.8" x2="113.8" y2="451.1" stroke="#7a7a7a" stroke-width="1.1"/>
<line x1="103.3" y1="437.4" x2="103.3" y2="440.0" stroke="#333" stroke-width="1"/>
<line x1="124.5" y1="437.4" x2="124.5" y2="440.0" stroke="#333" stroke-width="1"/>
<line x1="112.5" y1="426.2" x2="115.1" y2="426.2" stroke="#333" stroke-width="1"/>
<line x1="112.5" y1="451.1" x2="115.1" y2="451.1" stroke="#333" stroke-width="1"/>
<line x1="89.5" y1="457.2" x2="89.5" y2="465.8" stroke="#7a7a7a" stroke-width="1.1"/>
<line x1="89.5" y1="480.0" x2="89.5" y2="487.1" stroke="#7a7a7a" stroke-width="1.1"/>
<line x1="88.2" y1="457.2" x2="90.8" y2="457.2" stroke="#333" stroke-width="1"/>
<line x1="88.2" y1="487.1" x2="90.8" y2="487.1" stroke="#333" stroke-width="1"/>
<line x1="160.1" y1="481.1" x2="171.3" y2="481.1" stroke="#7a7a7a" stroke-width="1.1"/>
<line x1="187.5" y1="481.1" x2="199.1" y2="481.1" stroke="#7a7a7a" stroke-width="1.1"/>
<line x1="160.1" y1="479.8" x2="160.1" y2="482.4" stroke="#333" stroke-width="1"/>
<line x1="199.1" y1="479.8" x2="199.1" y2="482.4" stroke="#333" stroke-width="1"/>
<text transform="translate(147.10,366.33) scale(1,1.13)" font-size="11.8" font-weight="bold" fill="#e91419" text-anchor="middle">CO</text>
<text transform="translate(122.00,380.53) scale(1,1.13)" font-size="11.8" font-weight="bold" fill="#ff7b0a" text-anchor="middle">TP</text>
<text transform="translate(138.30,380.23) scale(1,1.13)" font-size="11.8" font-weight="bold" fill="#e91419" text-anchor="middle">GC</text>
<text transform="translate(141.80,389.43) scale(1,1.13)" font-size="11.8" font-weight="bold" fill="#e91419" text-anchor="middle">NT</text>
<text transform="translate(145.40,395.23) scale(1,1.13)" font-size="11.8" font-weight="bold" fill="#e91419" text-anchor="middle">CA</text>
<text transform="translate(165.10,400.03) scale(1,1.13)" font-size="11.8" font-weight="bold" fill="#e91419" text-anchor="middle">CM</text>
<text transform="translate(153.80,406.43) scale(1,1.13)" font-size="11.8" font-weight="bold" fill="#e91419" text-anchor="middle">NF</text>
<text transform="translate(162.00,412.93) scale(1,1.13)" font-size="11.8" font-weight="bold" fill="#ff7b0a" text-anchor="middle">SP</text>
<text transform="translate(159.80,410.03) scale(1,1.13)" font-size="11.8" font-weight="bold" fill="#e91419" text-anchor="middle">TO</text>
<text transform="translate(113.45,407.43) scale(1,1.13)" font-size="11.8" font-weight="bold" fill="#ff7b0a" text-anchor="middle">PP</text>
<text transform="translate(160.50,426.13) scale(1,1.13)" font-size="11.8" font-weight="bold" fill="#ff7b0a" text-anchor="middle">CE</text>
<text transform="translate(139.90,431.83) scale(1,1.13)" font-size="11.8" font-weight="bold" fill="#ff7b0a" text-anchor="middle">DE</text>
<text transform="translate(179.70,433.23) scale(1,1.13)" font-size="11.8" font-weight="bold" fill="#ffb400" text-anchor="middle">CY</text>
<text transform="translate(175.70,443.03) scale(1,1.13)" font-size="11.8" font-weight="bold" fill="#ff7b0a" text-anchor="middle">OM</text>
<text transform="translate(167.50,449.93) scale(1,1.13)" font-size="11.8" font-weight="bold" fill="#ff7b0a" text-anchor="middle">HB</text>
<text transform="translate(113.80,443.43) scale(1,1.13)" font-size="11.8" font-weight="bold" fill="#14898c" text-anchor="middle">ZO</text>
<text transform="translate(89.50,477.63) scale(1,1.13)" font-size="11.8" font-weight="bold" fill="#13891b" text-anchor="middle">PH</text>
<text transform="translate(179.40,485.83) scale(1,1.13)" font-size="11.8" font-weight="bold" fill="#13891b" text-anchor="middle">CL</text>
<text transform="translate(158.90,493.03) scale(1,1.13)" font-size="11.8" font-weight="bold" fill="#13891b" text-anchor="middle">MA</text>
<text transform="translate(175.20,502.73) scale(1,1.13)" font-size="11.8" font-weight="bold" fill="#13891b" text-anchor="middle">TA</text>
<line x1="155.4" y1="410.6" x2="155.4" y2="416.1" stroke="#7a7a7a" stroke-width="1.1"/>
<circle cx="124" cy="370.7" r="4.3" fill="#000"/>
<rect x="137.9" y="372.09999999999997" width="8.2" height="8.2" fill="#000"/>
<path d="M159.1 378.1L162.79999999999998 381.8L159.1 385.5L155.4 381.8Z" fill="#000"/>
<text transform="translate(223.5,291.45) scale(1,1.1)" font-size="7.8" font-weight="bold" fill="#e91419">CA</text>
<text transform="translate(240.1,292.29) scale(1,1.12)" font-size="9.9" font-style="italic" fill="#050505">C. amblyrhynchos</text>
<text transform="translate(223.5,304.05) scale(1,1.1)" font-size="7.8" font-weight="bold" fill="#e91419">CM</text>
<text transform="translate(240.1,304.89) scale(1,1.12)" font-size="9.9" font-style="italic" fill="#050505">C. melanopterus</text>
<text transform="translate(223.5,316.75) scale(1,1.1)" font-size="7.8" font-weight="bold" fill="#e91419">CO</text>
<text transform="translate(240.1,317.59) scale(1,1.12)" font-size="9.9" font-style="italic" fill="#050505">C. obscurus</text>
<text transform="translate(223.5,328.95) scale(1,1.1)" font-size="7.8" font-weight="bold" fill="#e91419">GC</text>
<text transform="translate(240.1,329.79) scale(1,1.12)" font-size="9.9" font-style="italic" fill="#050505">G. cuvier</text>
<text transform="translate(223.5,340.05) scale(1,1.1)" font-size="7.8" font-weight="bold" fill="#e91419">NT</text>
<text transform="translate(240.1,340.89) scale(1,1.12)" font-size="9.9" font-style="italic" fill="#050505">N. acutidens</text>
<text transform="translate(223.5,351.95) scale(1,1.1)" font-size="7.8" font-weight="bold" fill="#e91419">NF</text>
<text transform="translate(240.1,352.79) scale(1,1.12)" font-size="9.9" font-style="italic" fill="#050505">N. ferrugineus</text>
<text transform="translate(223.5,363.45) scale(1,1.1)" font-size="7.8" font-weight="bold" fill="#e91419">TO</text>
<text transform="translate(240.1,364.29) scale(1,1.12)" font-size="9.9" font-style="italic" fill="#050505">T. obesus</text>
<text transform="translate(223.5,375.25) scale(1,1.1)" font-size="7.8" font-weight="bold" fill="#f08a3c">CE</text>
<text transform="translate(240.1,376.09) scale(1,1.12)" font-size="9.9" font-style="italic" fill="#050505">coralivore</text>
<text transform="translate(223.5,387.05) scale(1,1.1)" font-size="7.8" font-weight="bold" fill="#f08a3c">DE</text>
<text transform="translate(240.1,387.89) scale(1,1.12)" font-size="9.9" font-style="italic" fill="#050505">demersal planktivore</text>
<text transform="translate(223.5,399.15) scale(1,1.1)" font-size="7.8" font-weight="bold" fill="#f08a3c">HB</text>
<text transform="translate(240.1,399.99) scale(1,1.12)" font-size="9.9" font-style="italic" fill="#050505">herbivore</text>
<text transform="translate(223.5,410.85) scale(1,1.1)" font-size="7.8" font-weight="bold" fill="#f08a3c">OM</text>
<text transform="translate(240.1,411.69) scale(1,1.12)" font-size="9.9" font-style="italic" fill="#050505">omnivore</text>
<text transform="translate(223.5,422.75) scale(1,1.1)" font-size="7.8" font-weight="bold" fill="#f08a3c">PP</text>
<text transform="translate(240.1,423.59) scale(1,1.12)" font-size="9.9" font-style="italic" fill="#050505">pelagic planktivore</text>
<text transform="translate(223.5,435.25) scale(1,1.1)" font-size="7.8" font-weight="bold" fill="#f08a3c">SP</text>
<text transform="translate(240.1,436.09) scale(1,1.12)" font-size="9.9" font-style="italic" fill="#050505">small predator</text>
<text transform="translate(223.5,447.05) scale(1,1.1)" font-size="7.8" font-weight="bold" fill="#f08a3c">TP</text>
<text transform="translate(240.1,447.89) scale(1,1.12)" font-size="9.9" font-style="italic" fill="#050505">teleost predator</text>
<text transform="translate(223.5,459.45) scale(1,1.1)" font-size="7.8" font-weight="bold" fill="#ffb400">CY</text>
<text transform="translate(240.1,460.29) scale(1,1.12)" font-size="9.9" font-style="italic" fill="#050505">C. mydas</text>
<text transform="translate(223.5,472.05) scale(1,1.1)" font-size="7.8" font-weight="bold" fill="#14898c">ZO</text>
<text transform="translate(240.1,472.89) scale(1,1.12)" font-size="9.9" font-style="italic" fill="#050505">zooplankton</text>
<text transform="translate(223.5,484.25) scale(1,1.1)" font-size="7.8" font-weight="bold" fill="#13891b">CL</text>
<text transform="translate(240.1,485.09) scale(1,1.12)" font-size="9.9" font-style="italic" fill="#050505">coral</text>
<text transform="translate(223.5,495.65) scale(1,1.1)" font-size="7.8" font-weight="bold" fill="#13891b">MA</text>
<text transform="translate(240.1,496.49) scale(1,1.12)" font-size="9.9" font-style="italic" fill="#050505">macroalgae</text>
<text transform="translate(223.5,508.25) scale(1,1.1)" font-size="7.8" font-weight="bold" fill="#13891b">PH</text>
<text transform="translate(240.1,509.09) scale(1,1.12)" font-size="9.9" font-style="italic" fill="#050505">phytoplankton</text>
<text transform="translate(223.5,521.25) scale(1,1.1)" font-size="7.8" font-weight="bold" fill="#13891b">TA</text>
<text transform="translate(240.1,522.09) scale(1,1.12)" font-size="9.9" font-style="italic" fill="#050505">turf algae</text>
<path d="M228.8 528.3000000000001L233.10000000000002 532.6L228.8 536.9L224.5 532.6Z" fill="#000"/>
<rect x="224.45" y="538.45" width="8.5" height="8.5" fill="#000"/>
<circle cx="228.7" cy="552.9" r="4.15" fill="#000"/>
<text transform="translate(244.8,536.55) scale(1,1.12)" font-size="9.9" font-style="italic" fill="#050505">Dermis</text>
<text transform="translate(244.8,546.95) scale(1,1.12)" font-size="9.9" font-style="italic" fill="#050505">GBR Muscle</text>
<text transform="translate(244.8,556.85) scale(1,1.12)" font-size="9.9" font-style="italic" fill="#050505">QSCP Muscle</text>
<line x1="472.7" y1="302.8" x2="472.7" y2="318.9" stroke="#111" stroke-width="1.4"/>
<line x1="472.7" y1="333.9" x2="472.7" y2="348" stroke="#111" stroke-width="1.4"/>
<line x1="472.7" y1="361" x2="472.7" y2="366" stroke="#111" stroke-width="1.4"/>
<line x1="472.7" y1="388" x2="472.7" y2="400.5" stroke="#111" stroke-width="1.4"/>
<line x1="446.8" y1="333.9" x2="446.8" y2="338" stroke="#111" stroke-width="1.4"/>
<line x1="446.8" y1="352.6" x2="446.8" y2="355.5" stroke="#111" stroke-width="1.4"/>
<line x1="431.2" y1="345.3" x2="439.5" y2="345.3" stroke="#111" stroke-width="1.4"/>
<line x1="469.1" y1="343.8" x2="469.1" y2="347" stroke="#111" stroke-width="1.4"/>
<line x1="469.1" y1="361.6" x2="469.1" y2="364.6" stroke="#111" stroke-width="1.4"/>
<line x1="459.3" y1="404" x2="459.3" y2="428.8" stroke="#111" stroke-width="1.4"/>
<line x1="448" y1="397.1" x2="452" y2="397.1" stroke="#111" stroke-width="1.4"/>
<line x1="466" y1="397.1" x2="470.2" y2="397.1" stroke="#111" stroke-width="1.4"/>
<line x1="450.4" y1="376.9" x2="455" y2="376.9" stroke="#111" stroke-width="1.4"/>
<line x1="454.4" y1="381" x2="454.4" y2="385.6" stroke="#111" stroke-width="1.4"/>
<line x1="459" y1="384.4" x2="459" y2="390.7" stroke="#111" stroke-width="1.4"/>
<line x1="463" y1="384.4" x2="463" y2="390.7" stroke="#111" stroke-width="1.4"/>
<text transform="translate(472.50,330.53) scale(1,1.13)" font-size="11.8" font-weight="bold" fill="#ff10ff" text-anchor="middle">AD</text>
<text transform="translate(472.40,331.93) scale(1,1.13)" font-size="11.8" font-weight="bold" fill="#e91419" text-anchor="middle">IO</text>
<text transform="translate(455.50,344.13) scale(1,1.13)" font-size="11.8" font-weight="bold" fill="#e91419" text-anchor="middle">IP</text>
<text transform="translate(446.90,349.93) scale(1,1.13)" font-size="11.8" font-weight="bold" fill="#ff7b0a" text-anchor="middle">TM</text>
<text transform="translate(469.20,360.03) scale(1,1.13)" font-size="11.8" font-weight="bold" fill="#e91419" text-anchor="middle">PG</text>
<text transform="translate(460.60,356.33) scale(1,1.13)" font-size="11.8" font-weight="bold" fill="#ff7b0a" text-anchor="middle">TO</text>
<text transform="translate(482.20,360.63) scale(1,1.13)" font-size="11.8" font-weight="bold" fill="#e91419" text-anchor="middle">SZ</text>
<text transform="translate(461.20,362.93) scale(1,1.13)" font-size="11.8" font-weight="bold" fill="#ff7b0a" text-anchor="middle">BL</text>
<text transform="translate(453.20,367.23) scale(1,1.13)" font-size="11.8" font-weight="bold" fill="#16168a" text-anchor="middle">EM</text>
<text transform="translate(485.60,367.93) scale(1,1.13)" font-size="11.8" font-weight="bold" fill="#e91419" text-anchor="middle">CO</text>
<text transform="translate(492.60,371.73) scale(1,1.13)" font-size="11.8" font-weight="bold" fill="#e91419" text-anchor="middle">CF</text>
<text transform="translate(456.50,371.13) scale(1,1.13)" font-size="11.8" font-weight="bold" fill="#ff7b0a" text-anchor="middle">TP</text>
<text transform="translate(474.30,377.43) scale(1,1.13)" font-size="11.8" font-weight="bold" fill="#ff7b0a" text-anchor="middle">TL</text>
<text transform="translate(461.60,382.53) scale(1,1.13)" font-size="11.8" font-weight="bold" fill="#e91419" text-anchor="middle">MB</text>
<text transform="translate(462.60,382.53) scale(1,1.13)" font-size="11.8" font-weight="bold" fill="#ff7b0a" text-anchor="middle">TS</text>
<text transform="translate(472.00,385.93) scale(1,1.13)" font-size="11.8" font-weight="bold" fill="#84208f" text-anchor="middle">SQ</text>
<text transform="translate(459.00,402.03) scale(1,1.13)" font-size="11.8" font-weight="bold" fill="#ff7b0a" text-anchor="middle">TF</text>
<text transform="translate(438.70,435.43) scale(1,1.13)" font-size="11.8" font-weight="bold" fill="#14898c" text-anchor="middle">ZO</text>
<text transform="translate(444.90,454.93) scale(1,1.13)" font-size="11.8" font-weight="bold" fill="#13891b" text-anchor="middle">PH</text>
<text transform="translate(488.30,461.13) scale(1,1.13)" font-size="11.8" font-weight="bold" fill="#13891b" text-anchor="middle">SE</text>
<text transform="translate(538.10,489.63) scale(1,1.13)" font-size="11.8" font-weight="bold" fill="#13891b" text-anchor="middle">SE</text>
<rect x="457.05" y="365.05" width="8.3" height="8.3" fill="#000"/>
<text transform="translate(571.9,292.05) scale(1,1.1)" font-size="7.8" font-weight="bold" fill="#e91419">CF</text>
<text transform="translate(586.9,292.89) scale(1,1.12)" font-size="9.9" font-style="italic" fill="#050505">C. falciformis</text>
<text transform="translate(571.9,304.05) scale(1,1.1)" font-size="7.8" font-weight="bold" fill="#e91419">CO</text>
<text transform="translate(586.9,304.89) scale(1,1.12)" font-size="9.9" font-style="italic" fill="#050505">C. obscurus</text>
<text transform="translate(571.9,315.65) scale(1,1.1)" font-size="7.8" font-weight="bold" fill="#e91419">IO</text>
<text transform="translate(586.9,316.49) scale(1,1.12)" font-size="9.9" font-style="italic" fill="#050505">I. oxyrinchus</text>
<text transform="translate(571.9,327.55) scale(1,1.1)" font-size="7.8" font-weight="bold" fill="#e91419">IP</text>
<text transform="translate(586.9,328.39) scale(1,1.12)" font-size="9.9" font-style="italic" fill="#050505">I. paucus</text>
<text transform="translate(571.9,339.15) scale(1,1.1)" font-size="7.8" font-weight="bold" fill="#e91419">MB</text>
<text transform="translate(586.9,339.99) scale(1,1.12)" font-size="9.9" font-style="italic" fill="#050505">M. birostris</text>
<text transform="translate(571.9,351.85) scale(1,1.1)" font-size="7.8" font-weight="bold" fill="#e91419">PG</text>
<text transform="translate(586.9,352.69) scale(1,1.12)" font-size="9.9" font-style="italic" fill="#050505">P. glauca</text>
<text transform="translate(571.9,363.25) scale(1,1.1)" font-size="7.8" font-weight="bold" fill="#e91419">SZ</text>
<text transform="translate(586.9,364.09) scale(1,1.12)" font-size="9.9" font-style="italic" fill="#050505">S. zygaena</text>
<text transform="translate(571.9,376.75) scale(1,1.1)" font-size="7.8" font-weight="bold" fill="#f08a3c">BL</text>
<text transform="translate(586.9,377.59) scale(1,1.12)" font-size="9.9" font-style="italic" fill="#050505">billfish</text>
<text transform="translate(571.9,388.65) scale(1,1.1)" font-size="7.8" font-weight="bold" fill="#f08a3c">TL</text>
<text transform="translate(586.9,389.49) scale(1,1.12)" font-size="9.9" font-style="italic" fill="#050505">T. alalunga</text>
<text transform="translate(571.9,401.35) scale(1,1.1)" font-size="7.8" font-weight="bold" fill="#f08a3c">TM</text>
<text transform="translate(586.9,402.19) scale(1,1.12)" font-size="9.9" font-style="italic" fill="#050505">T. maccoyii</text>
<text transform="translate(571.9,413.55) scale(1,1.1)" font-size="7.8" font-weight="bold" fill="#f08a3c">TO</text>
<text transform="translate(586.9,414.39) scale(1,1.12)" font-size="9.9" font-style="italic" fill="#050505">T. obesus</text>
<text transform="translate(571.9,425.75) scale(1,1.1)" font-size="7.8" font-weight="bold" fill="#f08a3c">TF</text>
<text transform="translate(586.9,426.59) scale(1,1.12)" font-size="9.9" font-style="italic" fill="#050505">teleost offshore</text>
<text transform="translate(571.9,437.65) scale(1,1.1)" font-size="7.8" font-weight="bold" fill="#f08a3c">TP</text>
<text transform="translate(586.9,438.49) scale(1,1.12)" font-size="9.9" font-style="italic" fill="#050505">teleost predators</text>
<text transform="translate(571.9,450.35) scale(1,1.1)" font-size="7.8" font-weight="bold" fill="#f08a3c">TS</text>
<text transform="translate(586.9,451.19) scale(1,1.12)" font-size="9.9" font-style="italic" fill="#050505">teleost shelf</text>
<text transform="translate(571.9,462.45) scale(1,1.1)" font-size="7.8" font-weight="bold" fill="#84208f">SQ</text>
<text transform="translate(586.9,463.29) scale(1,1.12)" font-size="9.9" font-style="italic" fill="#050505">squid</text>
<text transform="translate(571.9,475.25) scale(1,1.1)" font-size="7.8" font-weight="bold" fill="#16168a">EM</text>
<text transform="translate(586.9,476.09) scale(1,1.12)" font-size="9.9" font-style="italic" fill="#050505">E. minor</text>
<text transform="translate(571.9,488.95) scale(1,1.1)" font-size="7.8" font-weight="bold" fill="#ff10ff">AD</text>
<text transform="translate(586.9,489.79) scale(1,1.12)" font-size="9.9" font-style="italic" fill="#050505">A. pusillus doriferus</text>
<text transform="translate(571.9,501.35) scale(1,1.1)" font-size="7.8" font-weight="bold" fill="#14898c">ZO</text>
<text transform="translate(586.9,502.19) scale(1,1.12)" font-size="9.9" font-style="italic" fill="#050505">zooplankton</text>
<text transform="translate(571.9,513.35) scale(1,1.1)" font-size="7.8" font-weight="bold" fill="#13891b">PH</text>
<text transform="translate(586.9,514.19) scale(1,1.12)" font-size="9.9" font-style="italic" fill="#050505">phytoplankton</text>
<text transform="translate(571.9,526.35) scale(1,1.1)" font-size="7.8" font-weight="bold" fill="#13891b">SE</text>
<text transform="translate(586.9,527.19) scale(1,1.12)" font-size="9.9" font-style="italic" fill="#050505">seagrass</text>
<rect x="573.1" y="538.1" width="8.8" height="8.8" fill="#000"/>
<text transform="translate(593.3,546.6) scale(1,1.12)" font-size="9.9" font-style="italic" fill="#050505">Muscle</text>
</svg></body></html>
